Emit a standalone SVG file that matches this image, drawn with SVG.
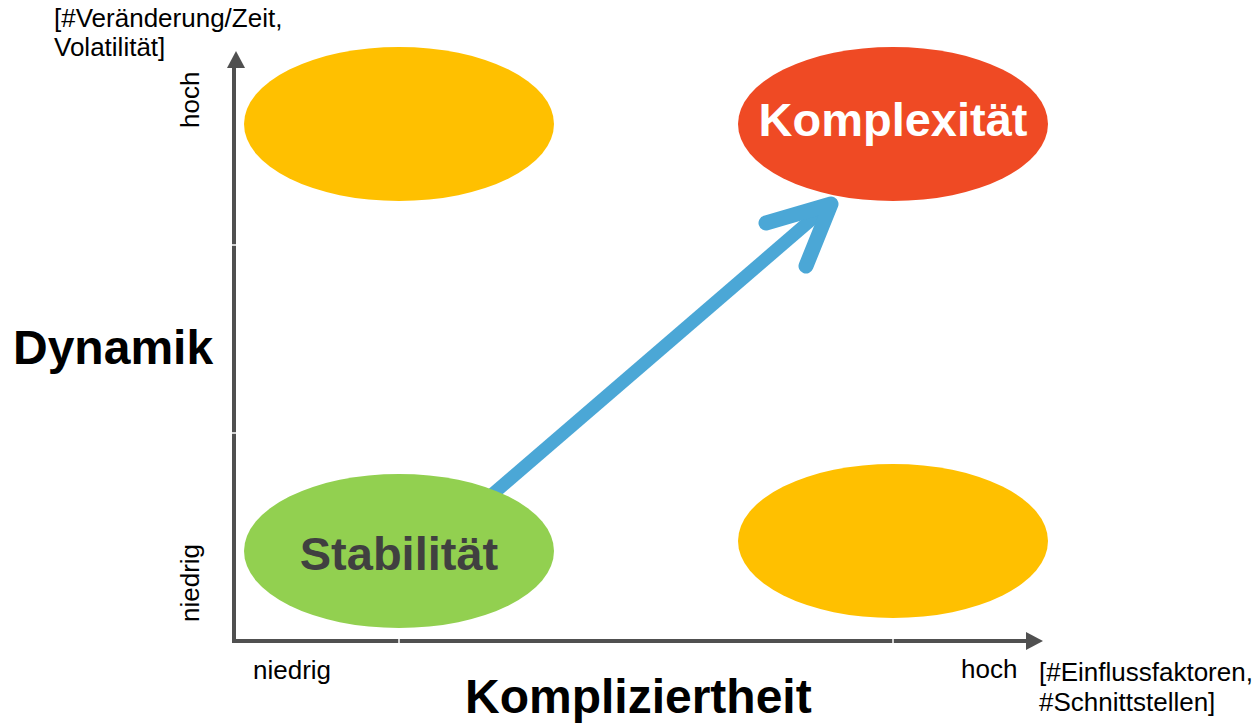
<svg xmlns="http://www.w3.org/2000/svg" width="1260" height="724" viewBox="0 0 1260 724">
<style>
.lbl{font-family:"Liberation Sans",Arial,sans-serif;font-size:26px;fill:#000}
.big{font-family:"Liberation Sans",Arial,sans-serif;font-size:48px;font-weight:bold;fill:#000}
.node{font-family:"Liberation Sans",Arial,sans-serif;font-size:47px;font-weight:bold;text-anchor:middle}
.axis{stroke:#505050;stroke-width:4;fill:none}
.tick{stroke:#fff;stroke-width:1.5}
</style>
<rect width="1260" height="724" fill="#fff"/>
<g id="connectors">
<path d="M480,505 L826,207" stroke="#4BA7D6" stroke-width="13" fill="none"/>
<path d="M766,223 L831,204 L806,266" stroke="#4BA7D6" stroke-width="15" fill="none" stroke-linecap="round" stroke-linejoin="round"/>
</g>
<g id="axes">
<path class="axis" d="M234,66 L234,641 L1028,641"/>
<polygon points="236,51 227,68 245,68" fill="#505050"/>
<polygon points="1043,641 1026,632 1026,650" fill="#505050"/>
<path class="tick" d="M232,245 h4 M232,433 h4 M399,639 v4 M893,639 v4"/>
</g>
<g id="node-topleft"><ellipse cx="399" cy="124" rx="155" ry="77" fill="#FFC000"/></g>
<g id="node-komplexitaet"><ellipse cx="893" cy="124" rx="155" ry="77" fill="#EF4A24"/><text class="node" x="893" y="136" fill="#fff">Komplexität</text></g>
<g id="node-stabilitaet"><ellipse cx="399" cy="551" rx="155" ry="77" fill="#92D050"/><text class="node" x="399" y="570" fill="#404040">Stabilität</text></g>
<g id="node-bottomright"><ellipse cx="893" cy="541" rx="155" ry="77" fill="#FFC000"/></g>
<g id="labels">
<text class="lbl" x="54" y="27">[#Veränderung/Zeit,</text>
<text class="lbl" x="54" y="56">Volatilität]</text>
<text class="lbl" transform="translate(199,128) rotate(-90)">hoch</text>
<text class="lbl" transform="translate(199,622) rotate(-90)">niedrig</text>
<text class="big" x="13" y="364">Dynamik</text>
<text class="lbl" x="253" y="679">niedrig</text>
<text class="lbl" x="961" y="678">hoch</text>
<text class="lbl" x="1039" y="681">[#Einflussfaktoren,</text>
<text class="lbl" x="1039" y="711">#Schnittstellen]</text>
<text class="big" x="465" y="713">Kompliziertheit</text>
</g>
</svg>
